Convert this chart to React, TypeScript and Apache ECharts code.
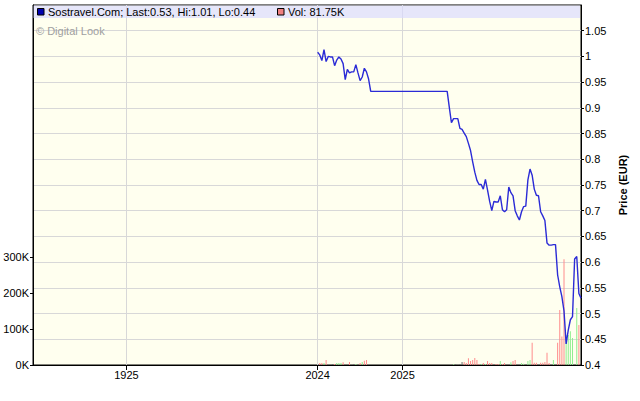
import React, { useEffect, useRef } from "react";
import * as echarts from "echarts";

// ---- data ----
const slotCount = 259; // category slots along the x axis
const tickLabels = ["1925", "2024", "2025"];
const tickSlots = [44, 134, 174];
const firstSlot = 134; // slot of first price below

const prices = [
  1.008, 1.003, 0.992, 1.013, 0.99, 1.0, 0.999, 0.999, 0.982, 0.993,
  0.999, 0.995, 0.986, 0.955, 0.975, 0.968, 0.97, 0.97, 0.984, 0.968,
  0.953, 0.96, 0.977, 0.97, 0.956, 0.932,
  0.932, 0.932, 0.932, 0.932, 0.932, 0.932, 0.932, 0.932, 0.932, 0.932,
  0.932, 0.932, 0.932, 0.932, 0.932, 0.932, 0.932, 0.932, 0.932, 0.932,
  0.932, 0.932, 0.932, 0.932, 0.932, 0.932, 0.932, 0.932, 0.932, 0.932,
  0.932, 0.932, 0.932, 0.932, 0.932, 0.932,
  0.901, 0.871, 0.879, 0.879, 0.879, 0.86, 0.858, 0.851, 0.844, 0.831,
  0.817, 0.795, 0.775, 0.759, 0.751, 0.751, 0.742, 0.761, 0.74, 0.718,
  0.7, 0.718, 0.717, 0.717, 0.729, 0.702, 0.698, 0.702, 0.746, 0.735,
  0.729, 0.7, 0.69, 0.682, 0.698, 0.708, 0.709, 0.76, 0.781, 0.769,
  0.742, 0.73, 0.729, 0.698, 0.69, 0.681, 0.637, 0.633, 0.633, 0.634,
  0.634, 0.575, 0.552, 0.533, 0.505, 0.441, 0.468, 0.488, 0.494, 0.606,
  0.611, 0.539, 0.53,
];

// volume in thousands, aligned with prices
const volumes = [
  0, 5.5, 5.5, 5.5, 14, 0, 0, 2.8, 2.8, 5.5,
  5.5, 5.5, 7.5, 0, 0, 8.3, 0, 2.8, 2.8, 0,
  5.5, 8.3, 12, 14, 0, 0,
  0, 0, 0, 0, 0, 0, 0, 0, 0, 0,
  0, 0, 0, 0, 0, 0, 0, 0, 0, 0,
  0, 0, 0, 0, 0, 0, 0, 0, 0, 0,
  0, 0, 0, 0, 0, 0,
  0, 0, 2, 2.8, 0, 2.8, 8.3, 8.3, 5.5, 18.5,
  11, 14, 19.5, 14, 2.8, 2.8, 5.5, 2.8, 11, 5.5,
  5.5, 0, 2.8, 2.8, 11, 2.8, 5.5, 0, 0, 7.5,
  11, 14, 0, 0, 5.5, 3.6, 0, 11, 14, 62,
  6.4, 6.4, 0, 6.4, 6.4, 8.3, 34, 5.5, 0, 14,
  0, 62, 153, 79, 294, 83, 83, 94, 75, 0,
  158, 111, 0,
];

// u = up day, d = down day, n = unchanged
const volDir = [
  "", "d", "d", "u", "d", "", "", "n", "d", "u",
  "u", "u", "d", "", "", "d", "", "n", "u", "",
  "d", "u", "d", "d", "", "",
  "", "", "", "", "", "", "", "", "", "",
  "", "", "", "", "", "", "", "", "", "",
  "", "", "", "", "", "", "", "", "", "",
  "", "", "", "", "", "",
  "", "", "u", "n", "", "n", "n", "d", "d", "d",
  "d", "d", "d", "d", "d", "u", "d", "u", "d", "d",
  "d", "", "d", "d", "u", "d", "d", "", "", "u",
  "d", "d", "", "", "u", "u", "", "u", "u", "d",
  "d", "d", "", "d", "d", "d", "d", "d", "", "u",
  "", "d", "d", "d", "d", "u", "u", "u", "u", "",
  "u", "d", "",
];

const priceTicks = [0.4, 0.45, 0.5, 0.55, 0.6, 0.65, 0.7, 0.75, 0.8, 0.85, 0.9, 0.95, 1.0, 1.05];
const volTicks = [0, 100000, 200000, 300000];

const legendMain = "Sostravel.Com; Last:0.53, Hi:1.01, Lo:0.44";
const legendVol = "Vol: 81.75K";
const watermark = "\u00A9 Digital Look";

const FONT = "'Liberation Sans', Arial, sans-serif";
const dirColor: Record<string, string> = { u: "#90ee90", d: "#ff8c8c", n: "#707070" };

export default function App() {
  const ref = useRef<HTMLDivElement>(null);

  useEffect(() => {
    if (!ref.current) return;
    const chart = echarts.init(ref.current, undefined, { renderer: "svg" });

    const categories: string[] = [];
    for (let i = 0; i < slotCount; i++) {
      const k = tickSlots.indexOf(i);
      categories.push(k >= 0 ? tickLabels[k] : "");
    }
    const lineData: (number | null)[] = categories.map(() => null);
    const barData: any[] = categories.map(() => null);
    prices.forEach((p, k) => {
      lineData[firstSlot + k] = p;
    });
    volumes.forEach((v, k) => {
      if (v > 0) {
        barData[firstSlot + k] = {
          value: v * 1000,
          itemStyle: { color: dirColor[volDir[k]] || "#707070" },
        };
      }
    });

    const showAt = (_: number, val: string) => val !== "";

    chart.setOption({
      animation: false,
      textStyle: { fontFamily: FONT },
      grid: {
        left: 33,
        right: 59,
        top: 5,
        bottom: 36,
        show: true,
        backgroundColor: "#ffffef",
        borderColor: "#000",
        borderWidth: 1,
      },
      xAxis: {
        type: "category",
        data: categories,
        boundaryGap: false,
        axisLine: { show: true, lineStyle: { color: "#000", width: 1 } },
        axisTick: { show: true, interval: showAt, length: 5, lineStyle: { color: "#000" } },
        axisLabel: {
          interval: showAt,
          color: "#000",
          fontSize: 11,
          fontFamily: FONT,
          margin: 4,
        },
        splitLine: { show: true, interval: showAt, lineStyle: { color: "#d8d8d8", width: 1 } },
      },
      yAxis: [
        {
          type: "value",
          position: "right",
          min: 0.4,
          max: 1.1,
          interval: 0.05,
          name: "Price (EUR)",
          nameLocation: "middle",
          nameRotate: 90,
          nameGap: 26,
          nameTextStyle: { color: "#000", fontSize: 11, fontWeight: "bold", fontFamily: FONT },
          axisLine: { show: true, lineStyle: { color: "#000", width: 1 } },
          axisTick: { show: true, length: 3, customValues: priceTicks, lineStyle: { color: "#000" } },
          axisLabel: {
            color: "#000",
            fontSize: 11,
            fontFamily: FONT,
            margin: 4,
            customValues: priceTicks,
            formatter: (v: number) => (v > 1.08 ? "" : String(+v.toFixed(2))),
          },
          splitLine: { show: true, lineStyle: { color: "#d8d8d8", width: 1 } },
        },
        {
          type: "value",
          position: "left",
          min: 0,
          max: 1000000,
          interval: 100000,
          axisLine: { show: true, lineStyle: { color: "#000", width: 1 } },
          axisTick: { show: true, length: 3, customValues: volTicks, lineStyle: { color: "#000" } },
          axisLabel: {
            color: "#000",
            fontSize: 11,
            fontFamily: FONT,
            margin: 4,
            customValues: volTicks,
            formatter: (v: number) => (v > 300000 ? "" : v / 1000 + "K"),
          },
          splitLine: { show: false },
        },
      ],
      series: [
        {
          type: "bar",
          yAxisIndex: 1,
          data: barData,
          barWidth: 1,
          barGap: "0%",
          z: 2,
        },
        {
          type: "line",
          yAxisIndex: 0,
          data: lineData,
          showSymbol: false,
          symbol: "none",
          lineStyle: { color: "#2b2bd6", width: 1.4 },
          z: 3,
        },
      ],
      graphic: [
        {
          type: "rect",
          z: 5,
          shape: { x: 33.5, y: 5.5, width: 546.5, height: 12.5 },
          style: { fill: "rgba(218,218,255,0.667)" },
        },
        {
          type: "rect",
          z: 6,
          shape: { x: 37.5, y: 8.5, width: 6.5, height: 6.5 },
          style: { fill: "#0000b0", stroke: "#000", lineWidth: 1 },
        },
        {
          type: "text",
          z: 6,
          x: 48,
          y: 12,
          style: { text: legendMain, fill: "#000", font: `11px ${FONT}`, verticalAlign: "middle" },
        },
        {
          type: "rect",
          z: 6,
          shape: { x: 277.5, y: 8.5, width: 6.5, height: 6.5 },
          style: { fill: "#f08080", stroke: "#000", lineWidth: 1 },
        },
        {
          type: "text",
          z: 6,
          x: 288,
          y: 12,
          style: { text: legendVol, fill: "#000", font: `11px ${FONT}`, verticalAlign: "middle" },
        },
        {
          type: "text",
          z: 6,
          x: 36,
          y: 31,
          style: { text: watermark, fill: "#a0a0a0", font: `11px ${FONT}`, verticalAlign: "middle" },
        },
      ],
    });

    return () => chart.dispose();
  }, []);

  return (
    <div
      ref={ref}
      style={{ position: "fixed", left: 0, top: 0, width: 640, height: 401, background: "#fff" }}
    />
  );
}
